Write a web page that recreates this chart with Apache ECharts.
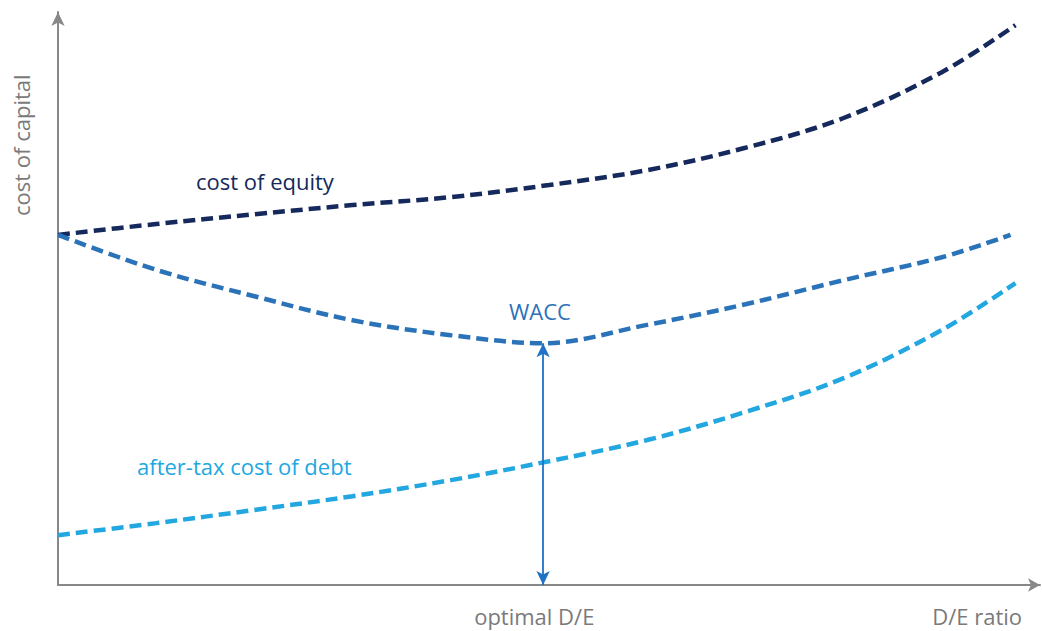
<!DOCTYPE html>
<html>
<head>
<meta charset="utf-8">
<script src="https://cdn.jsdelivr.net/npm/echarts@6/dist/echarts.min.js"></script>
<style>html,body{margin:0;padding:0;background:#fff}#c{width:1042px;height:631px}</style>
</head>
<body>
<div id="c"></div>
<script>
// D/E ratio positions (arbitrary units)
const deRatio = [0, 1, 2, 3, 4, 5, 6, 7, 8, 9, 9.75];
const deRatioWacc = [0, 1, 2, 3, 4, 4.94, 6, 7, 8, 9, 9.7];
// cost of capital (arbitrary units, 0-100)
const costOfEquity = [61.1, 63.0, 64.7, 66.3, 67.7, 69.8, 72.4, 76.3, 81.5, 89.5, 97.7];
const wacc = [61.1, 55.0, 50.4, 46.2, 43.6, 42.2, 45.4, 49.0, 53.2, 57.2, 61.1];
const costOfDebt = [8.7, 10.8, 13.1, 15.5, 18.3, 21.6, 25.3, 30.2, 36.1, 44.5, 52.7];
// optimal point
const optimalDE = 4.94;
const optimalWacc = 42.2;
// x tick labels
const tickValues = [4.85, 9.36];
const tickLabels = ['optimal D/E', 'D/E ratio'];
const seriesNames = ['cost of equity', 'WACC', 'after-tax cost of debt'];

const pair = (xs, ys) => xs.map((x, i) => [x, ys[i]]);
const FONT = '"Open Sans", sans-serif';
const colors = ['#15295c', '#2b73b8', '#22a7e0'];

const chart = echarts.init(document.getElementById('c'), null, {renderer: 'svg'});
const lineSeries = (name, data, color) => ({
  name, type: 'line', smooth: 0.35, showSymbol: false, data,
  lineStyle: {color, width: 4.5, type: [12, 6]},
  itemStyle: {color}, silent: true, z: 3
});
chart.setOption({
  animation: false,
  grid: {left: 58, right: 2, top: 12, bottom: 46},
  xAxis: {
    type: 'value', min: 0, max: 10,
    splitLine: {show: false}, axisTick: {show: false},
    axisLine: {lineStyle: {color: '#888', width: 2}, symbol: ['none', 'arrow'], symbolSize: [10, 12]},
    axisLabel: {
      customValues: tickValues, margin: 20, color: '#7a7a7a', fontSize: 22, fontFamily: FONT,
      formatter: v => { const i = tickValues.indexOf(v); return i >= 0 ? tickLabels[i] : ''; }
    }
  },
  yAxis: {
    type: 'value', min: 0, max: 100,
    splitLine: {show: false}, axisTick: {show: false}, axisLabel: {show: false},
    axisLine: {lineStyle: {color: '#888', width: 2}, symbol: ['none', 'arrow'], symbolSize: [10, 14]}
  },
  series: [
    lineSeries(seriesNames[0], pair(deRatio, costOfEquity), colors[0]),
    lineSeries(seriesNames[1], pair(deRatioWacc, wacc), colors[1]),
    lineSeries(seriesNames[2], pair(deRatio, costOfDebt), colors[2]),
    {
      type: 'line', data: [], silent: true, z: 4,
      markLine: {
        silent: true, symbol: ['arrow', 'arrow'], symbolSize: [10, 14],
        label: {show: false},
        lineStyle: {color: '#1f72c4', width: 1.8, type: 'solid'},
        data: [[{coord: [optimalDE, 0]}, {coord: [optimalDE, optimalWacc]}]]
      }
    }
  ],
  graphic: [
    {type: 'text', left: 196, top: 170, style: {text: seriesNames[0], fill: colors[0], font: '22px ' + FONT}},
    {type: 'text', left: 509, top: 300, style: {text: seriesNames[1], fill: colors[1], font: '22px ' + FONT}},
    {type: 'text', left: 137, top: 455, style: {text: seriesNames[2], fill: colors[2], font: '22px ' + FONT}},
    {type: 'text', x: 10, y: 216, rotation: Math.PI / 2,
     style: {text: 'cost of capital', fill: '#7a7a7a', font: '22px ' + FONT}}
  ]
});
</script>
</body>
</html>
